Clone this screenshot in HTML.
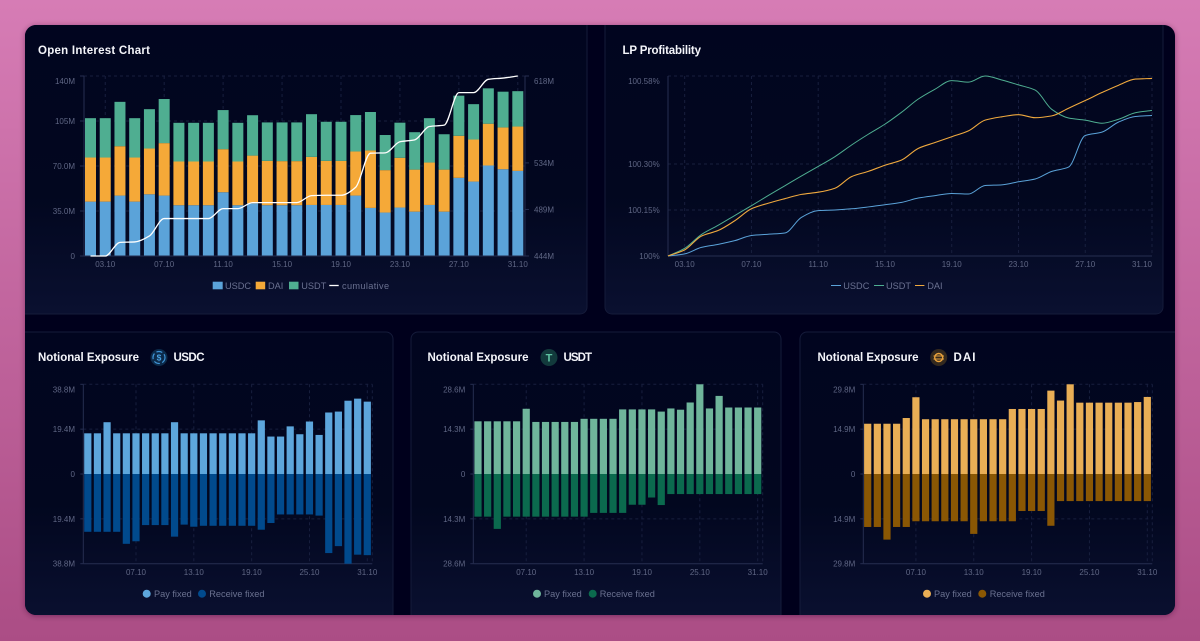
<!DOCTYPE html>
<html lang="en">
<head>
<meta charset="utf-8">
<title>Market dashboard</title>
<style>
html,body{margin:0;padding:0;width:1200px;height:641px;overflow:hidden;background:#c063a0}
svg{display:block;filter:blur(.3px)}
text{font-family:"Liberation Sans",sans-serif}
.t{fill:#f4f5fa;font-size:11.5px;font-weight:700}
.k{fill:#5f6684;font-size:8px}
.l{fill:#6a7190;font-size:9.2px}
</style>
</head>
<body>
<svg id="root" xmlns="http://www.w3.org/2000/svg" width="1200" height="641" viewBox="0 0 1200 641">
<defs>
<linearGradient id="bg" x1="0" y1="0" x2="0" y2="1"><stop offset="0" stop-color="#d67cb5"/><stop offset="1" stop-color="#ab4d85"/></linearGradient>
<linearGradient id="cardfill" x1="0" y1="0" x2="0" y2="1"><stop offset="0" stop-color="#01051f"/><stop offset=".6" stop-color="#02071f"/><stop offset="1" stop-color="#0a1030"/></linearGradient>
<filter id="sh" x="-5%" y="-5%" width="110%" height="110%"><feDropShadow dx="0" dy="1" stdDeviation="3" flood-color="#30102a" flood-opacity=".45"/></filter>
<clipPath id="win"><rect x="25" y="25" width="1150" height="590" rx="11"/></clipPath>
</defs>
<rect width="1200" height="641" fill="url(#bg)"/>
<rect x="25" y="25" width="1150" height="590" rx="11" fill="#01051f" filter="url(#sh)"/>

<g clip-path="url(#win)">
<path d="M20 20H587V307a7 7 0 0 1-7 7H20Z" fill="url(#cardfill)" stroke="#151b3a" stroke-width="1"/>
<path d="M605 20H1163V307a7 7 0 0 1-7 7H612a7 7 0 0 1-7-7Z" fill="url(#cardfill)" stroke="#151b3a" stroke-width="1"/>
<path d="M20 332H386a7 7 0 0 1 7 7V620H20Z" fill="url(#cardfill)" stroke="#151b3a" stroke-width="1"/>
<path d="M418 332H774a7 7 0 0 1 7 7V620H411V339a7 7 0 0 1 7-7Z" fill="url(#cardfill)" stroke="#151b3a" stroke-width="1"/>
<path d="M807 332H1180V620H800V339a7 7 0 0 1 7-7Z" fill="url(#cardfill)" stroke="#151b3a" stroke-width="1"/>
</g>

<text class="t" x="38" y="54" textLength="112">Open Interest Chart</text>
<text class="t" x="622.5" y="54" textLength="78.5">LP Profitability</text>
<text class="t" x="38" y="361" textLength="101">Notional Exposure</text>
<text class="t" x="173.5" y="361" textLength="31">USDC</text>
<text class="t" x="427.5" y="361" textLength="101">Notional Exposure</text>
<text class="t" x="563.5" y="361" textLength="28.5">USDT</text>
<text class="t" x="817.5" y="361" textLength="101">Notional Exposure</text>
<text class="t" x="953.5" y="361" textLength="22">DAI</text>

<g>
<circle cx="159" cy="357.5" r="8.5" fill="#0c2a4a"/>
<circle cx="159" cy="357.5" r="6" fill="none" stroke="#3f93d6" stroke-width="1.2" stroke-dasharray="6 2.5"/>
<text x="159" y="360.5" text-anchor="middle" style="font-size:8.5px;fill:#4ba0e0;font-weight:700">$</text>
</g>
<g>
<circle cx="549" cy="357.5" r="8.5" fill="#123a3c"/>
<text x="549" y="361.5" text-anchor="middle" style="font-size:11px;fill:#5fc2a2;font-weight:700">T</text>
</g>
<g>
<circle cx="938.7" cy="357.5" r="8.5" fill="#33291f"/>
<circle cx="938.7" cy="357.5" r="4" fill="none" stroke="#e9a23c" stroke-width="1.4"/>
<path d="M933.5 356h10.5M933.5 359h10.5" stroke="#e9a23c" stroke-width="1"/>
</g>

<g>
<g><rect x="212.7" y="281.7" width="10" height="7.6" fill="#5ba3d9"/><text class="l" x="225" y="289">USDC</text></g>
<g><rect x="255.7" y="281.7" width="9.5" height="7.6" fill="#f5a938"/><text class="l" x="268" y="289">DAI</text></g>
<g><rect x="289" y="281.7" width="9.5" height="7.6" fill="#4fae91"/><text class="l" x="301.3" y="289">USDT</text></g>
<g><path d="M329.3 285.5h9.4" stroke="#fff" stroke-width="1.3"/><text class="l" x="342" y="289" style="letter-spacing:.35px">cumulative</text></g>
</g>
<g>
<g><path d="M831 285.5h10" stroke="#5ba3d9"/><text class="l" x="843.3" y="289">USDC</text></g>
<g><path d="M874 285.5h10" stroke="#4fae91"/><text class="l" x="886" y="289">USDT</text></g>
<g><path d="M915 285.5h9.4" stroke="#f0a93e"/><text class="l" x="927.3" y="289">DAI</text></g>
</g>
<g>
<g><circle cx="146.7" cy="593.7" r="4" fill="#5da6dc"/><text class="l" x="154" y="597">Pay fixed</text></g>
<g><circle cx="202" cy="593.7" r="4" fill="#014a8d"/><text class="l" x="209.3" y="597">Receive fixed</text></g>
</g>
<g>
<g><circle cx="537" cy="593.7" r="4" fill="#6fb59b"/><text class="l" x="544" y="597">Pay fixed</text></g>
<g><circle cx="592.7" cy="593.7" r="4" fill="#0b6a4e"/><text class="l" x="599.7" y="597">Receive fixed</text></g>
</g>
<g>
<g><circle cx="927" cy="593.7" r="4" fill="#e9ae55"/><text class="l" x="934" y="597">Pay fixed</text></g>
<g><circle cx="982.3" cy="593.7" r="4" fill="#8a5704"/><text class="l" x="989.7" y="597">Receive fixed</text></g>
</g>
</svg>

<script>
// ---- Open interest data (millions) ----
const oiUsdc = [42.3,42.3,47,42.3,48,47,39.5,39.5,39.5,49.6,39.5,41,39.5,39.5,39.5,39.7,39.7,39.7,47,37.4,33.8,37.7,34.5,39.7,34.5,60.8,57.9,70.4,67.5,66.2];
const oiDai = [34.3,34.3,38.4,34.3,35.6,40.8,34,34,34,33.5,34,37.1,34.5,34.3,34.3,37.4,34.3,34.3,34.3,44.7,33,38.7,32.7,33,32.7,32.7,32.7,32.5,32.5,34.5];
const oiUsdt = [30.6,30.6,34.5,30.6,30.6,34.3,30.1,30.1,30.1,30.4,30.1,31.4,29.9,30.1,30.1,33.2,30.4,30.4,28.3,29.9,27.3,27.3,29.1,34.5,27.5,31.2,27.5,27.5,27.8,27.5];
const oiCumulative = [444,444,457.2,457.6,463.4,480.2,480.2,480.2,480.2,489.8,489.8,495.6,495.6,495.6,495.6,502.4,502.7,502.7,510.5,543.4,543.7,554.4,556.3,569.2,570.5,601.9,601.9,614.8,616,618];
const oiLeftTicks = [0,35,70,105,140];
const oiLeftLabels = ["0","35.0M","70.0M","105M","140M"];
const oiRightTicks = [444,489,534,618];
const oiRightLabels = ["444M","489M","534M","618M"];
const oiDateIndex = [1,5,9,13,17,21,25,29];
const oiDateLabels = ["03.10","07.10","11.10","15.10","19.10","23.10","27.10","31.10"];

// ---- LP profitability data (percent gain above 100%) ----
const lpUsdc = [0,.007,.028,.038,.05,.067,.071,.075,.126,.148,.15,.154,.16,.167,.175,.189,.197,.204,.202,.23,.232,.242,.251,.276,.29,.393,.404,.437,.455,.458];
const lpUsdt = [0,.025,.07,.1,.132,.164,.197,.229,.261,.292,.324,.362,.397,.43,.469,.512,.544,.572,.567,.587,.574,.558,.541,.478,.45,.443,.433,.446,.467,.475];
const lpDai = [0,.02,.065,.083,.115,.154,.172,.187,.201,.208,.221,.259,.276,.296,.313,.351,.37,.389,.408,.443,.454,.461,.451,.457,.482,.507,.533,.557,.577,.579];
const lpTicks = [0,.15,.3,.587];
const lpLabels = ["100%","100.15%","100.30%","100.58%"];

// ---- Notional exposure data (millions) ----
const usdcPay = [17.6,17.6,22.4,17.6,17.6,17.6,17.6,17.6,17.6,22.4,17.6,17.6,17.6,17.6,17.6,17.6,17.6,17.6,23.2,16.2,16.2,20.6,17.2,22.7,16.9,26.6,27,31.7,32.6,31.3];
const usdcReceive = [25,25,25,25,30.2,29.1,22.1,22.1,22.1,27.1,21.9,22.8,22.4,22.4,22.4,22.4,22.4,22.4,24.1,21.2,17.5,17.5,17.5,17.5,18,34.2,31.2,38.8,34.9,35.1];
const usdtPay = [16.8,16.8,16.8,16.8,16.8,20.8,16.6,16.6,16.6,16.6,16.6,17.6,17.6,17.6,17.6,20.6,20.6,20.6,20.6,19.9,20.9,20.5,22.8,28.6,20.9,24.9,21.2,21.2,21.2,21.2];
const usdtReceive = [13.6,13.6,17.5,13.6,13.6,13.6,13.6,13.6,13.6,13.6,13.6,13.6,12.4,12.4,12.4,12.4,9.8,9.8,7.5,9.9,6.4,6.4,6.4,6.4,6.4,6.4,6.4,6.4,6.4,6.4];
const daiPay = [16.7,16.7,16.7,16.7,18.6,25.5,18.2,18.2,18.2,18.2,18.2,18.2,18.2,18.2,18.2,21.6,21.6,21.6,21.6,27.7,24.4,29.8,23.7,23.7,23.7,23.7,23.7,23.7,23.9,25.6];
const daiReceive = [17.6,17.6,21.8,17.6,17.6,15.7,15.7,15.7,15.7,15.7,15.7,19.9,15.7,15.7,15.7,15.7,12.3,12.3,12.3,17.2,9,9,9,9,9,9,9,9,9,9];
const usdcTickValues = [38.8,19.4,0,-19.4,-38.8];
const usdcTickLabels = ["38.8M","19.4M","0","19.4M","38.8M"];
const usdtTickValues = [28.6,14.3,0,-14.3,-28.6];
const usdtTickLabels = ["28.6M","14.3M","0","14.3M","28.6M"];
const daiTickValues = [29.8,14.9,0,-14.9,-29.8];
const daiTickLabels = ["29.8M","14.9M","0","14.9M","29.8M"];
const notionalDateIndex = [5,11,17,23,29];
const notionalDateLabels = ["07.10","13.10","19.10","25.10","31.10"];

const NS = "http://www.w3.org/2000/svg";
const root = document.getElementById("root");
const AXIS = "#262e50", GRID = "#181f3e";

function make(tag, attrs, parent) {
  const e = document.createElementNS(NS, tag);
  for (const k in attrs) e.setAttribute(k, attrs[k]);
  (parent || root).appendChild(e);
  return e;
}
function group(name) {
  const g = make("g", {});
  
  
  return g;
}
function label(parent, x, y, str, anchor, name) {
  const t = make("text", {x: x, y: y, "text-anchor": anchor, "class": "k"}, parent);
  t.textContent = str;
  
  
  return t;
}
function rule(parent, x1, y1, x2, y2, color, dash, name) {
  const l = make("line", {x1: x1, y1: y1, x2: x2, y2: y2, stroke: color, "stroke-width": 1}, parent);
  if (dash) l.setAttribute("stroke-dasharray", "3 3");
  
  
  return l;
}
function bar(parent, x, y0, y1, w, color, name) {
  const r = make("rect", {x: x - w / 2, y: Math.min(y0, y1), width: w, height: Math.abs(y1 - y0), fill: color}, parent);
  
  
  return r;
}
// Monotone cubic path through value arrays via axis functions
function monotonePath(vals, xf, yf) {
  const xs = vals.map((v, i) => xf(i)), ys = vals.map(yf), n = vals.length;
  const d = [], m = [];
  for (let i = 0; i < n - 1; i++) d.push((ys[i + 1] - ys[i]) / (xs[i + 1] - xs[i]));
  m[0] = d[0]; m[n - 1] = d[n - 2];
  for (let i = 1; i < n - 1; i++) m[i] = d[i - 1] * d[i] <= 0 ? 0 : 2 * d[i - 1] * d[i] / (d[i - 1] + d[i]);
  let p = "M" + xs[0].toFixed(2) + " " + ys[0].toFixed(2);
  for (let i = 0; i < n - 1; i++) {
    const h = (xs[i + 1] - xs[i]) / 3;
    p += "C" + (xs[i] + h).toFixed(2) + " " + (ys[i] + m[i] * h).toFixed(2) + " " +
      (xs[i + 1] - h).toFixed(2) + " " + (ys[i + 1] - m[i + 1] * h).toFixed(2) + " " +
      xs[i + 1].toFixed(2) + " " + ys[i + 1].toFixed(2);
  }
  return p;
}

// ---- Open Interest chart ----
(function () {
  const g = group("open-interest-chart");
  const X0 = 84, X1 = 525, TOP = 76, BOT = 256;
  const x = i => 90.5 + i * (517.8 - 90.5) / (oiUsdc.length - 1);
  const yL = v => BOT - v / 140 * (BOT - TOP);
  const yR = v => BOT - (v - 444) / (618 - 444) * (BOT - TOP);
  oiLeftTicks.forEach((v, i) => {
    if (v > 0) rule(g, X0, yL(v), X1, yL(v), GRID, true, "grid-line-y");
    rule(g, X0 - 4, yL(v), X0, yL(v), AXIS, false, "left-tick-mark");
    label(g, 75, yL(v) + (i === oiLeftTicks.length - 1 ? 8 : 3), oiLeftLabels[i], "end", "left-axis-label");
  });
  oiDateIndex.forEach((d, i) => {
    rule(g, x(d), TOP, x(d), BOT, GRID, true, "grid-line-x");
    label(g, x(d), 267, oiDateLabels[i], "middle", "x-axis-label");
  });
  oiUsdc.forEach((v, i) => {
    const a = v, b = a + oiDai[i], c = b + oiUsdt[i];
    bar(g, x(i), yL(0), yL(a), 11, "#5ba3d9", "bar-usdc");
    bar(g, x(i), yL(a), yL(b), 11, "#f5a938", "bar-dai");
    bar(g, x(i), yL(b), yL(c), 11, "#4fae91", "bar-usdt");
  });
  rule(g, X0, TOP, X0, BOT, AXIS, false, "left-axis");
  rule(g, X1, TOP, X1, BOT, AXIS, false, "right-axis");
  rule(g, X0, BOT, X1, BOT, AXIS, false, "x-axis");
  oiRightTicks.forEach((v, i) => {
    rule(g, X1, yR(v), X1 + 4, yR(v), AXIS, false, "right-tick-mark");
    label(g, 534, yR(v) + (i === oiRightTicks.length - 1 ? 8 : 3), oiRightLabels[i], "start", "right-axis-label");
  });
  const line = make("path", {d: monotonePath(oiCumulative, x, yR), fill: "none", stroke: "#ffffff", "stroke-width": 1.3}, g);
  
  
})();

// ---- LP Profitability chart ----
(function () {
  const g = group("lp-profitability-chart");
  const X0 = 668, X1 = 1152, TOP = 76, BOT = 256;
  const x = i => X0 + i * (X1 - X0) / (lpUsdc.length - 1);
  const y = v => BOT - v / 0.587 * (BOT - TOP);
  lpTicks.forEach((v, i) => {
    if (v > 0) rule(g, X0, y(v), X1, y(v), GRID, true, "grid-line-y");
    label(g, 659.7, y(v) + (i === lpTicks.length - 1 ? 8 : 3), lpLabels[i], "end", "y-axis-label");
  });
  oiDateIndex.forEach((d, i) => {
    rule(g, x(d), TOP, x(d), BOT, GRID, true, "grid-line-x");
    const last = i === oiDateIndex.length - 1;
    label(g, last ? X1 : x(d), 267, oiDateLabels[i], last ? "end" : "middle", "x-axis-label");
  });
  rule(g, X0, TOP, X0, BOT, AXIS, false, "y-axis");
  rule(g, X0, BOT, X1, BOT, AXIS, false, "x-axis");
  const usdc = make("path", {d: monotonePath(lpUsdc, x, y), fill: "none", stroke: "#5ba3d9", "stroke-width": 1}, g);
  
  
  const usdt = make("path", {d: monotonePath(lpUsdt, x, y), fill: "none", stroke: "#4fae91", "stroke-width": 1}, g);
  
  
  const dai = make("path", {d: monotonePath(lpDai, x, y), fill: "none", stroke: "#f0a93e", "stroke-width": 1.1}, g);
  
  
})();

// ---- Notional Exposure charts ----
function notional(name, pay, receive, ticks, labels, max, X0, X1, first, last, labelX, payColor, recColor) {
  const g = group(name);
  const TOP = 384.3, BOT = 563.7, MID = (TOP + BOT) / 2;
  const x = i => first + i * (last - first) / (pay.length - 1);
  const y = v => MID - v / max * (BOT - TOP) / 2;
  ticks.forEach((v, i) => {
    if (v !== 0 && i !== ticks.length - 1) rule(g, X0, y(v), X1, y(v), GRID, true, "grid-line-y");
    rule(g, X0 - 3, y(v), X0, y(v), AXIS, false, "y-tick-mark");
    label(g, labelX, y(v) + (i === 0 ? 8 : 3), labels[i], "end", "y-axis-label");
  });
  notionalDateIndex.forEach((d, i) => {
    rule(g, x(d), TOP, x(d), BOT, GRID, true, "grid-line-x");
    label(g, x(d), 575, notionalDateLabels[i], "middle", "x-axis-label");
  });
  rule(g, X1, TOP, X1, BOT, GRID, true, "grid-line-right");
  rule(g, X0, TOP, X0, BOT, AXIS, false, "y-axis");
  rule(g, X0, BOT, X1, BOT, AXIS, false, "x-axis");
  pay.forEach((v, i) => {
    bar(g, x(i), y(0), y(v), 7.2, payColor, "bar-pay-fixed");
    bar(g, x(i), y(0), y(-receive[i]), 7.2, recColor, "bar-receive-fixed");
  });
}
notional("usdc-exposure-chart", usdcPay, usdcReceive, usdcTickValues, usdcTickLabels, 38.8, 83.3, 372.3, 87.8, 367.3, 75, "#5da6dc", "#014a8d");
notional("usdt-exposure-chart", usdtPay, usdtReceive, usdtTickValues, usdtTickLabels, 28.6, 473.3, 762.7, 478, 757.7, 465.3, "#6fb59b", "#0b6a4e");
notional("dai-exposure-chart", daiPay, daiReceive, daiTickValues, daiTickLabels, 29.8, 863.3, 1152.3, 867.7, 1147.3, 855.3, "#e9ae55", "#8a5704");
</script>
</body>
</html>
